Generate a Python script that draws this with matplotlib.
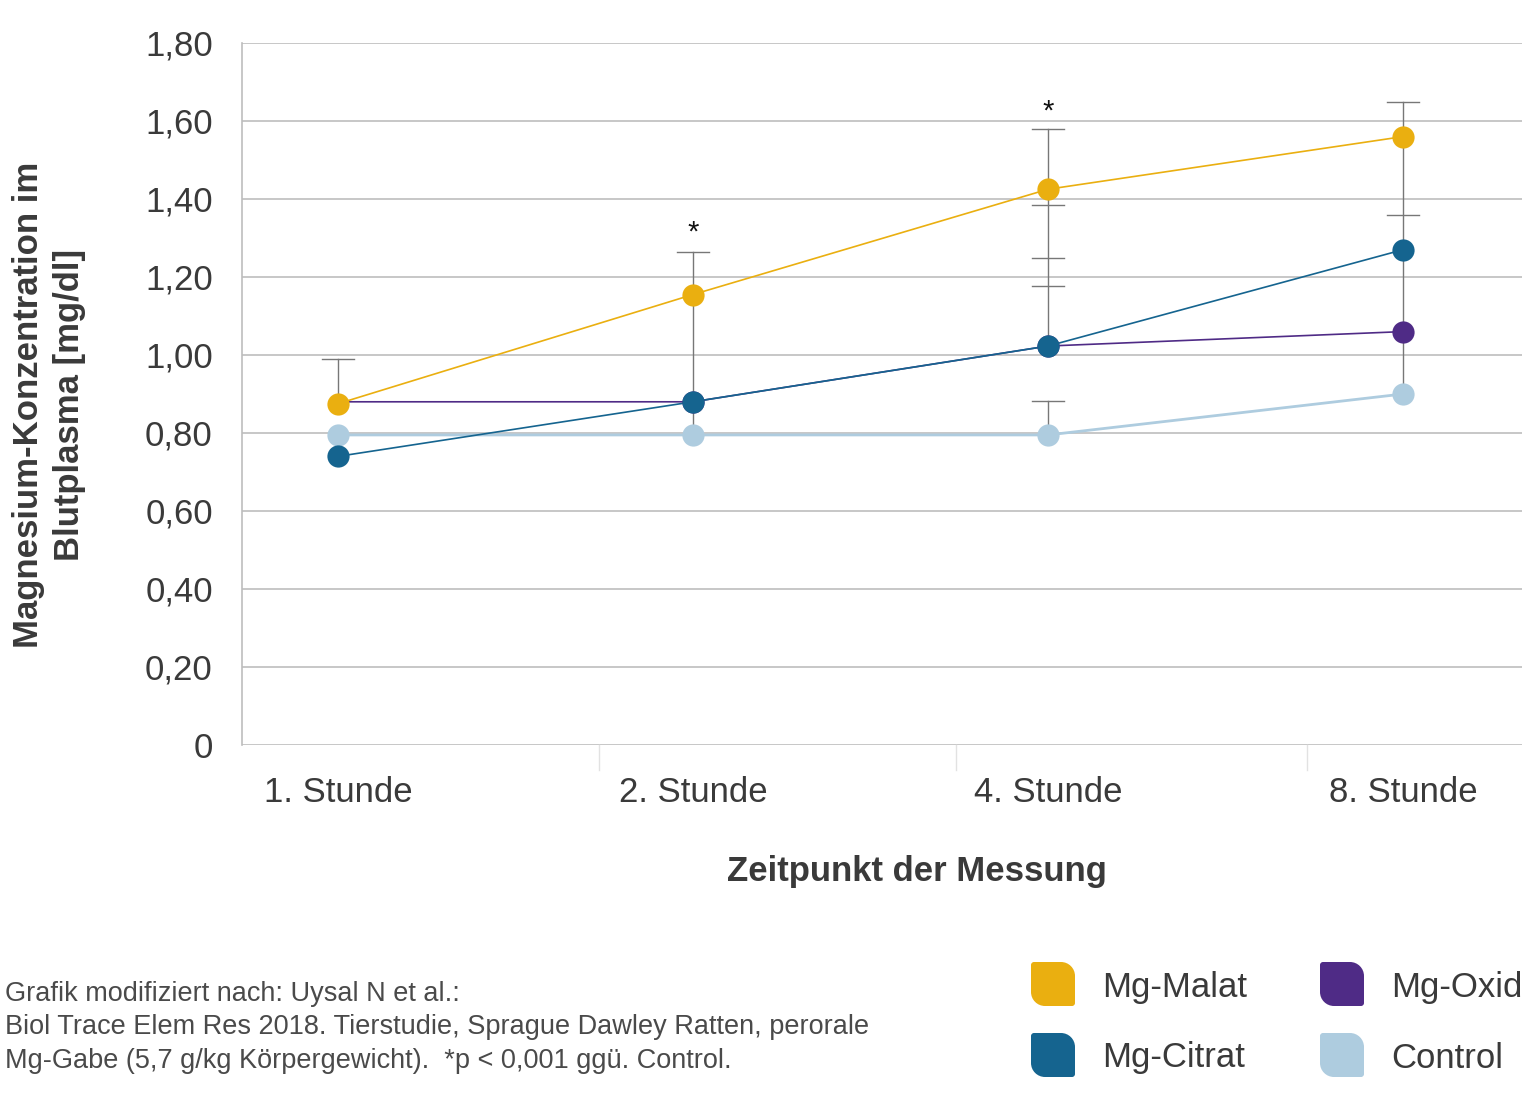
import matplotlib
matplotlib.use("Agg")
import matplotlib.pyplot as plt
from matplotlib.path import Path
import matplotlib.patches as mpatches

# ── Data ──────────────────────────────────────────────────────────────────────
categories = ["1. Stunde", "2. Stunde", "4. Stunde", "8. Stunde"]
y_ticks = [0, 0.2, 0.4, 0.6, 0.8, 1.0, 1.2, 1.4, 1.6, 1.8]
y_ticklabels = ["0", "0,20", "0,40", "0,60", "0,80", "1,00", "1,20", "1,40", "1,60", "1,80"]

series_names = ["Control", "Mg-Oxid", "Mg-Citrat", "Mg-Malat"]
control = [0.795, 0.795, 0.795, 0.90]
mg_oxid = [0.88, 0.88, 1.023, 1.06]
mg_citrat = [0.74, 0.88, 1.023, 1.27]
mg_malat = [0.875, 1.155, 1.425, 1.56]

# error whiskers: (category index, low, high) and cap positions
whisker_x = [0, 1, 2, 2, 3]
whisker_lo = [0.875, 0.795, 1.025, 0.795, 0.90]
whisker_hi = [0.99, 1.265, 1.58, 0.882, 1.65]
cap_x = [0, 1, 2, 2, 2, 2, 2, 3, 3]
cap_y = [0.99, 1.265, 1.58, 1.385, 1.25, 1.177, 0.882, 1.65, 1.36]

star_x = [1, 2]
star_y = [1.315, 1.625]

footnote_lines = [
    "Grafik modifiziert nach: Uysal N et al.:",
    "Biol Trace Elem Res 2018. Tierstudie, Sprague Dawley Ratten, perorale",
    "Mg-Gabe (5,7 g/kg Körpergewicht).  *p < 0,001 ggü. Control.",
]

# ── Styles ────────────────────────────────────────────────────────────────────
COLORS = {
    "Mg-Malat": "#EAAF10",
    "Mg-Citrat": "#15648F",
    "Mg-Oxid": "#4F2B86",
    "Control": "#AECCDF",
}
LINEWIDTHS = {"Mg-Malat": 1.2, "Mg-Citrat": 1.2, "Mg-Oxid": 1.2, "Control": 2.0}
TEXT = "#3a3a3a"
GRID = "#BDBDBD"
FONT = "Liberation Sans"

W, H = 1536, 1117
fig = plt.figure(figsize=(W / 100, H / 100), dpi=100, facecolor="white")
ax = fig.add_axes([242 / W, 1 - 745 / H, (1522 - 242) / W, (745 - 43) / H])

x = list(range(len(categories)))
data = {"Control": control, "Mg-Oxid": mg_oxid, "Mg-Citrat": mg_citrat, "Mg-Malat": mg_malat}

# whiskers and caps
for xi, lo, hi in zip(whisker_x, whisker_lo, whisker_hi):
    ax.plot([xi, xi], [lo, hi], color="#777777", linewidth=1.0, zorder=2)
for xi, yi in zip(cap_x, cap_y):
    ax.plot([xi - 0.045, xi + 0.045], [yi, yi], color="#777777", linewidth=1.0, zorder=2)

for name in series_names:
    vals = data[name]
    ax.plot(x, vals, color=COLORS[name], linewidth=LINEWIDTHS[name], zorder=3)
    # Mg-Oxid marker at 1. Stunde is hidden behind Mg-Malat in the original
    mx = [xi for xi in x if not (name == "Mg-Oxid" and xi == 0)]
    ax.plot(mx, [vals[i] for i in mx], linestyle="none", color=COLORS[name],
            marker="o", markersize=16, markeredgewidth=0, zorder=4)

for xi, yi in zip(star_x, star_y):
    ax.text(xi, yi, "*", fontsize=21, ha="center", va="center", color="#111111",
            family=FONT)

# axes styling
ax.set_xlim(-0.27, 3.335)
ax.set_ylim(0, 1.8)
ax.set_yticks(y_ticks)
ax.set_yticklabels(y_ticklabels, fontsize=25, color=TEXT, family=FONT)
ax.set_xticks(x)
ax.set_xticklabels(categories, fontsize=25, color=TEXT, family=FONT)
ax.tick_params(axis="y", length=0, pad=21)
ax.tick_params(axis="x", length=0, pad=22)
ax.yaxis.grid(True, color=GRID, linewidth=1.2, zorder=0)
for s in ["top", "right", "bottom"]:
    ax.spines[s].set_visible(False)
ax.spines["left"].set_color(GRID)
ax.spines["left"].set_linewidth(1.2)

# category separators below the axis
for sx in [0.735, 1.74, 2.73]:
    ax.plot([sx, sx], [0, -0.065], color="#E2E2E2", linewidth=1.0, clip_on=False)

# axis labels
fig.text(49 / W, 1 - 405 / H, "Magnesium-Konzentration im\nBlutplasma [mg/dl]",
         rotation=90, ha="center", va="center", fontsize=25, fontweight="bold",
         color=TEXT, family=FONT, linespacing=1.3, multialignment="center")
fig.text(917 / W, 1 - 872 / H, "Zeitpunkt der Messung", ha="center", va="center",
         fontsize=25, fontweight="bold", color=TEXT, family=FONT)

# footnote
for i, line in enumerate(footnote_lines):
    fig.text(5 / W, 1 - (994 + 33.5 * i) / H, line, ha="left", va="center",
             fontsize=19.5, color="#4a4a4a", family=FONT)

# legend with leaf-shaped swatches (overlay axes in pixel units)
lax = fig.add_axes([0, 0, 1, 1])
lax.set_xlim(0, W)
lax.set_ylim(H, 0)
lax.axis("off")


def leaf(x0, y0, s, rb, rs):
    k = 0.5523
    verts = [
        (x0 + rs, y0),
        (x0 + s - rb, y0),
        (x0 + s - rb + k * rb, y0), (x0 + s, y0 + rb - k * rb), (x0 + s, y0 + rb),
        (x0 + s, y0 + s - rs),
        (x0 + s, y0 + s - rs + k * rs), (x0 + s - rs + k * rs, y0 + s), (x0 + s - rs, y0 + s),
        (x0 + rb, y0 + s),
        (x0 + rb - k * rb, y0 + s), (x0, y0 + s - rb + k * rb), (x0, y0 + s - rb),
        (x0, y0 + rs),
        (x0, y0 + rs - k * rs), (x0 + rs - k * rs, y0), (x0 + rs, y0),
        (x0 + rs, y0),
    ]
    codes = [Path.MOVETO, Path.LINETO, Path.CURVE4, Path.CURVE4, Path.CURVE4,
             Path.LINETO, Path.CURVE4, Path.CURVE4, Path.CURVE4,
             Path.LINETO, Path.CURVE4, Path.CURVE4, Path.CURVE4,
             Path.LINETO, Path.CURVE4, Path.CURVE4, Path.CURVE4, Path.CLOSEPOLY]
    return Path(verts, codes)


legend_items = [("Mg-Malat", 1031, 962), ("Mg-Citrat", 1031, 1033),
                ("Mg-Oxid", 1320, 962), ("Control", 1320, 1033)]
for name, lx, ly in legend_items:
    lax.add_patch(mpatches.PathPatch(leaf(lx, ly, 44, 14, 3), facecolor=COLORS[name],
                                     edgecolor="none"))
    lax.text(lx + 71, ly + 25, name, fontsize=25, color=TEXT, family=FONT,
             ha="left", va="center")

fig.savefig("out.png", dpi=100, facecolor="white")
